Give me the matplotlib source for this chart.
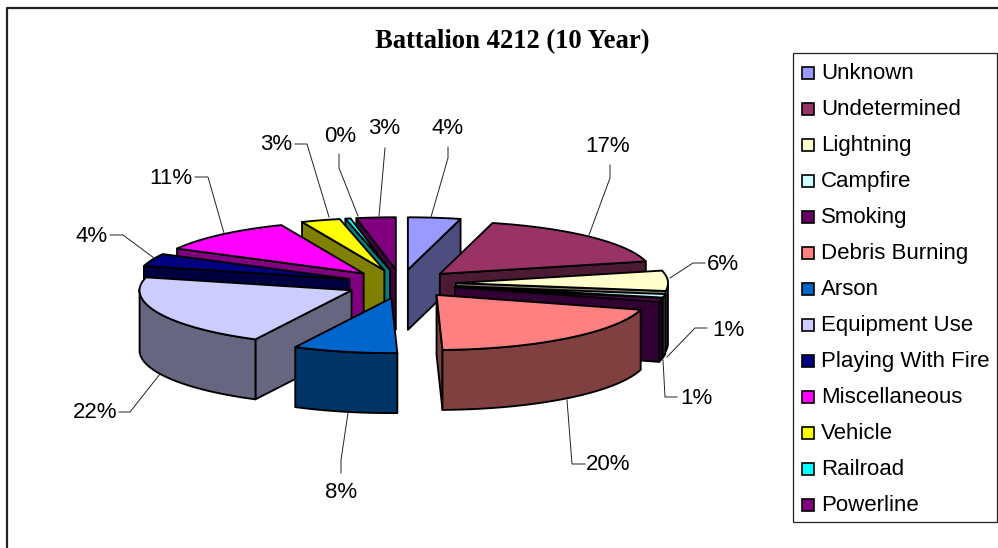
import numpy as np
import matplotlib
matplotlib.use("Agg")
import matplotlib.pyplot as plt
from matplotlib.colors import to_rgb
from matplotlib.patches import Polygon, Rectangle

# data
categories = ["Unknown", "Undetermined", "Lightning", "Campfire", "Smoking",
              "Debris Burning", "Arson", "Equipment Use", "Playing With Fire",
              "Miscellaneous", "Vehicle", "Railroad", "Powerline"]
values = [4, 17, 6, 1, 1, 20, 8, 22, 4, 11, 3, 0.4, 3]
colors = ["#9999FF", "#993366", "#FFFFCC", "#CCFFFF", "#660066", "#FF8080",
          "#0066CC", "#CCCCFF", "#000080", "#FF00FF", "#FFFF00", "#00FFFF",
          "#800080"]

# layout of the 3d pie, in pixels
CX, CY = 401, 284
RX, RY_FRONT, RY_BACK = 212, 55, 52.5
DEPTH = 60
EXPLODE = 0.26
SKEW = np.radians(2.7)  # front of the pie sits a little left of a true ellipse
LW = 1.35

# label centre, then leader line
label_pos = [(448, 128), (608, 147), (723, 264), (728, 331), (696, 398),
             (608, 465), (341, 492), (95, 413), (92, 237), (171, 178),
             (276, 145), (340, 136), (384, 129)]
leaders = [
    [(448, 147), (448, 158), (431, 217)],
    [(610, 165), (610, 178), (589, 235)],
    [(705, 263), (693, 263), (670, 278)],
    [(707, 328), (695, 328), (667, 357)],
    [(677, 397), (665, 397), (663, 360)],
    [(585, 464), (572, 464), (567, 400)],
    [(341, 473), (341, 460), (348, 413)],
    [(119, 412), (130, 412), (160, 374)],
    [(110, 235), (123, 235), (154, 258)],
    [(195, 177), (208, 177), (224, 233)],
    [(295, 144), (307, 144), (329, 217)],
    [(339, 154), (339, 168), (358, 216)],
    [(385, 148), (379, 216)],
]


def rim(theta, ox, oy):
    t = theta + SKEW * (1 - np.cos(theta)) / 2
    ry = np.where(np.cos(t) > 0, RY_BACK, RY_FRONT)
    return ox + RX * np.sin(t), oy - ry * np.cos(t)


def draw_wedge(ax, start, end, color, z):
    mid = (start + end) / 2
    ox = CX + EXPLODE * RX * np.sin(mid)
    oy = CY - EXPLODE * RY_FRONT * np.cos(mid)
    dark = tuple(c * 0.5 for c in to_rgb(color))

    def wall(points, order):
        ax.add_patch(Polygon(points, closed=True, facecolor=dark, edgecolor="black",
                             linewidth=LW, joinstyle="round", zorder=order))

    # radial walls, only the ones facing us
    if start > np.pi:
        x, y = rim(start, ox, oy)
        wall([(ox, oy), (x, y), (x, y + DEPTH), (ox, oy + DEPTH)], z)
    if end < np.pi:
        x, y = rim(end, ox, oy)
        wall([(ox, oy), (x, y), (x, y + DEPTH), (ox, oy + DEPTH)], z)

    # outer wall on the front half
    a = max(start, np.pi / 2)
    b = min(end, 3 * np.pi / 2)
    if b > a:
        t = np.linspace(a, b, 60)
        x, y = rim(t, ox, oy)
        pts = list(zip(x, y)) + list(zip(x[::-1], y[::-1] + DEPTH))
        wall(pts, z + 0.1)

    # top face
    t = np.linspace(start, end, 80)
    x, y = rim(t, ox, oy)
    ax.add_patch(Polygon([(ox, oy)] + list(zip(x, y)), closed=True, facecolor=color,
                         edgecolor="black", linewidth=LW, joinstyle="round", zorder=z + 0.2))


fig = plt.figure(figsize=(9.98, 5.48), dpi=100)
ax = fig.add_axes([0, 0, 1, 1])
ax.set_xlim(0, 998)
ax.set_ylim(548, 0)
ax.axis("off")

# outer chart frame
ax.plot([998, 7, 7], [8, 8, 548], color="#222222", linewidth=1.6, zorder=1)

# pie, back slices first
total = sum(values)
edges = np.concatenate([[0], np.cumsum(values)]) / total * 2 * np.pi
mids = (edges[:-1] + edges[1:]) / 2
for n, i in enumerate(np.argsort(-np.cos(mids))):
    draw_wedge(ax, edges[i], edges[i + 1], colors[i], 10 + n)

# percent labels
for v, (tx, ty), line in zip(values, label_pos, leaders):
    ax.text(tx, ty, f"{v / total * 100:.0f}%", fontsize=16, family="Liberation Sans",
            ha="center", va="center", color="black", zorder=60)
    xs, ys = zip(*line)
    ax.plot(xs, ys, color="#222222", linewidth=0.7, zorder=50)

ax.text(512, 48, "Battalion 4212 (10 Year)", fontsize=19.2, family="Liberation Serif",
        weight="bold", ha="center", va="baseline", zorder=60)

# legend
ax.add_patch(Rectangle((793, 53), 204, 469, facecolor="white", edgecolor="#222222",
                       linewidth=0.9, zorder=5))
for i, (name, c) in enumerate(zip(categories, colors)):
    y = 72 + i * 36
    ax.add_patch(Rectangle((802, y - 5), 12, 12, facecolor=c, edgecolor="black",
                           linewidth=1.2, zorder=6))
    ax.text(821, y + 7, name, fontsize=16, family="Liberation Sans", ha="left",
            va="baseline", zorder=6)

fig.savefig("out.png", dpi=100)
